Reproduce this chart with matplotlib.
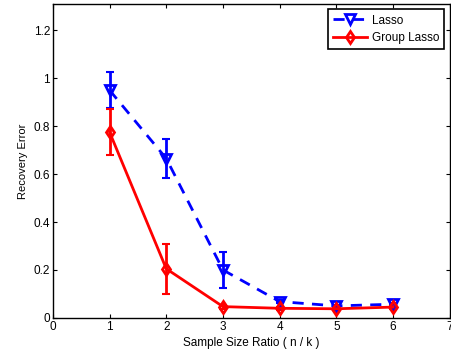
import matplotlib
matplotlib.use("Agg")
import matplotlib.pyplot as plt

ratios = [1, 2, 3, 4, 5, 6]
lasso = [0.95, 0.665, 0.20, 0.068, 0.050, 0.057]
lasso_err = [0.075, 0.083, 0.075, 0.006, 0.005, 0.005]
group = [0.775, 0.205, 0.047, 0.040, 0.038, 0.045]
group_err = [0.097, 0.105, 0.008, 0.006, 0.005, 0.006]

plt.rcParams['font.family'] = ['Liberation Sans', 'DejaVu Sans']
plt.rcParams['font.size'] = 8.5

fig = plt.figure(figsize=(4.52, 3.6), dpi=100)
ax = fig.add_axes([0.117, 0.117, 0.878, 0.872])

ax.errorbar(ratios, lasso, yerr=lasso_err, fmt='none', ecolor='#0000ff',
            capsize=3, capthick=1.5, elinewidth=2)
ax.errorbar(ratios, group, yerr=group_err, fmt='none', ecolor='#ff0000',
            capsize=3, capthick=1.5, elinewidth=2)
ax.plot(ratios, lasso, color='#0000ff', ls='--', lw=2, dashes=(4, 3),
        marker='v', ms=6.5, mfc='none', mec='#0000ff', mew=2, label='Lasso')
ax.plot(ratios, group, color='#ff0000', ls='-', lw=2,
        marker='d', ms=6.5, mfc='none', mec='#ff0000', mew=2, label='Group Lasso')

ax.set_xlim(0, 7)
ax.set_ylim(0, 1.31)
ax.set_xticks(range(0, 8))
ax.set_yticks([0, 0.2, 0.4, 0.6, 0.8, 1, 1.2])
ax.set_yticklabels(['0', '0.2', '0.4', '0.6', '0.8', '1', '1.2'])
ax.tick_params(direction='in', top=True, right=True, length=3, width=0.8, pad=2)
for s in ax.spines.values():
    s.set_linewidth(1.0)
ax.set_xlabel('Sample Size Ratio ( n / k )', fontsize=8.5, labelpad=3)
ax.set_ylabel('Recovery Error', fontsize=8, labelpad=4)

leg = ax.legend(loc='upper right', fancybox=False, edgecolor='black',
                framealpha=1, borderpad=0.45, handlelength=2.9,
                handletextpad=0.35, labelspacing=0.45, borderaxespad=0.45,
                fontsize=8.5)
leg.get_frame().set_linewidth(1.2)

fig.savefig('out.png', dpi=100)
